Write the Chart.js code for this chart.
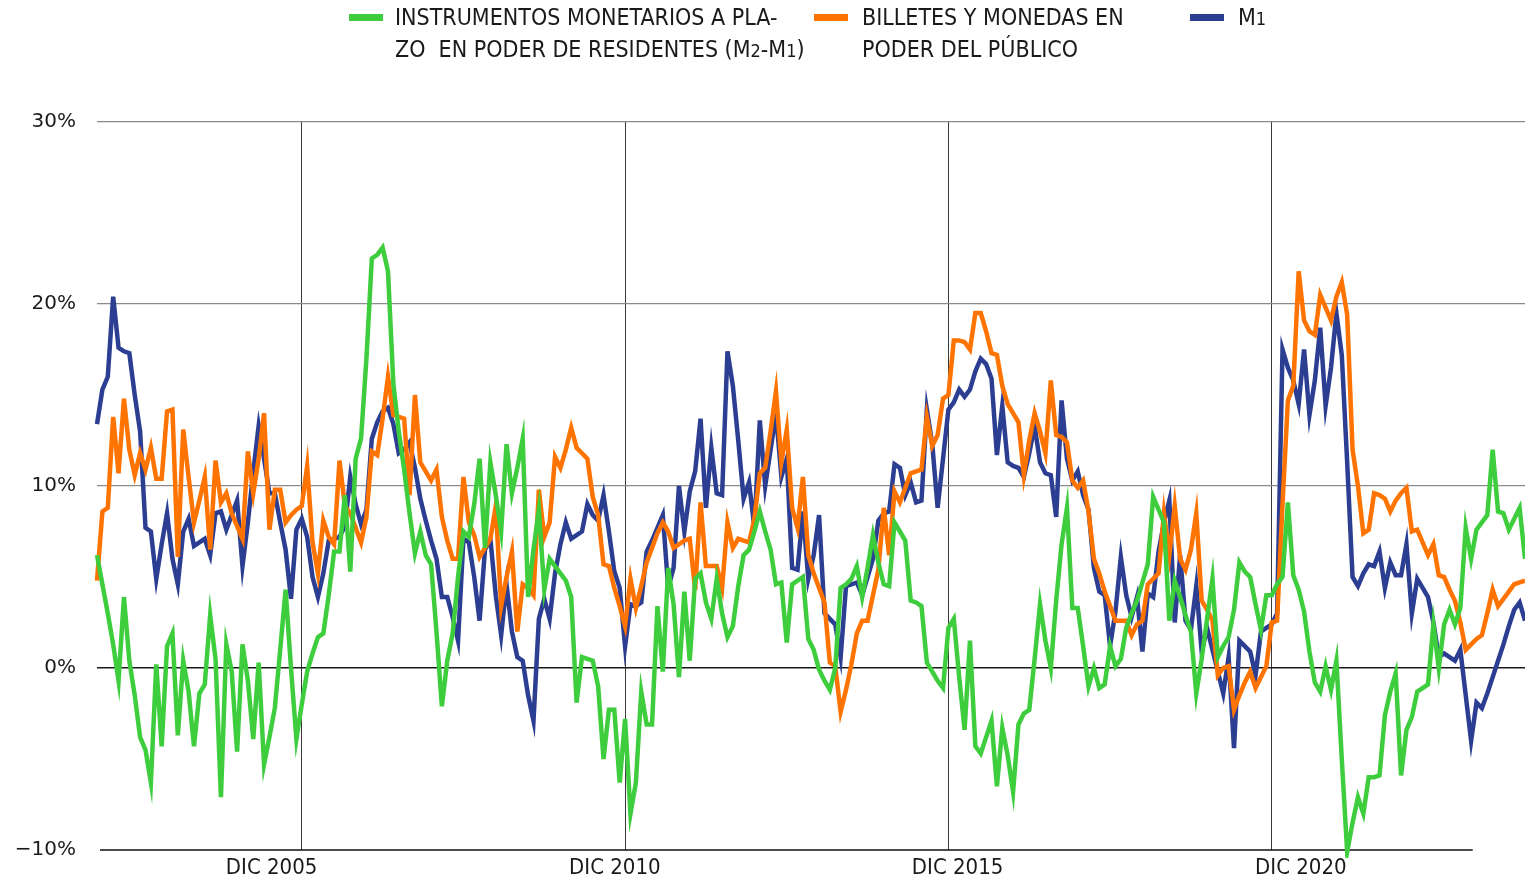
<!DOCTYPE html>
<html lang="es">
<head>
<meta charset="UTF-8">
<title>Agregados monetarios - variación anual</title>
<script src="https://cdn.jsdelivr.net/npm/chart.js"></script>
<style>
    body {
        margin: 0;
        background: #fff;
    }
    .lienzo {
        position: relative;
        width: 1525px;
        height: 883px;
    }
    .leyenda {
        position: absolute;
        top: 1px;
        font-family: "Liberation Sans Narrow", "DejaVu Sans Condensed", sans-serif;
        font-size: 23px;
        line-height: 32px;
        color: #1a1a1a;
        white-space: pre;
    }
    .marca {
        position: absolute;
        top: 14px;
        width: 34px;
        height: 7px;
    }
    .num {
        font-size: 18px;
    }
    canvas {
        position: absolute;
        left: 0;
        top: 0;
    }
</style>
</head>
<body>
<div class="lienzo">
    <canvas id="grafico" width="1525" height="883"></canvas>

    <div class="marca" style="left:349px; background:#3dcd3d"></div>
    <div class="leyenda" style="left:395px">INSTRUMENTOS MONETARIOS A PLA-
ZO  EN PODER DE RESIDENTES (M<span class="num">2</span>-M<span class="num">1</span>)</div>

    <div class="marca" style="left:814px; background:#ff7300"></div>
    <div class="leyenda" style="left:862px">BILLETES Y MONEDAS EN
PODER DEL PÚBLICO</div>

    <div class="marca" style="left:1190px; background:#2c3e92"></div>
    <div class="leyenda" style="left:1238px">M<span class="num">1</span></div>
</div>

<script>
    // meses: de octubre 2002 a noviembre 2024
    const MESES = ['ENE', 'FEB', 'MAR', 'ABR', 'MAY', 'JUN', 'JUL', 'AGO', 'SEP', 'OCT', 'NOV', 'DIC'];
    const meses = [];
    for (let a = 2002, m = 9; meses.length < 266; m++) {
        if (m === 12) { m = 0; a++; }
        meses.push(MESES[m] + ' ' + a);
    }

    const rotulosX = ['DIC 2005', 'DIC 2010', 'DIC 2015', 'DIC 2020'];

    // variación anual, %
    const plazo = [
        6.2, 4.6, 3.0, 1.3, -0.7, 3.9, 0.4, -1.5, -3.8, -4.5,
        -6.3, 0.2, -4.3, 1.2, 1.9, -3.7, 0.4, -1.3, -4.3, -1.4,
        -0.9, 2.9, 0.5, -7.1, 1.3, -0.2, -4.6, 1.3, -0.7, -3.9,
        0.3, -5.3, -3.8, -2.2, 1.0, 4.3, 0.0, -3.9, -2.0, -0.2,
        0.8, 1.7, 1.9, 4.0, 6.4, 6.4, 9.5, 5.3, 11.5, 12.6,
        17.0, 22.5, 22.7, 23.1, 21.8, 15.6, 13.0, 10.9, 8.5, 6.3,
        7.5, 6.2, 5.7, 2.0, -2.1, 0.4, 1.9, 5.0, 7.5, 7.2,
        9.0, 11.5, 6.6, 11.3, 9.5, 7.5, 12.3, 9.6, 11.0, 12.6,
        3.9, 6.5, 8.7, 4.3, 6.0, 5.6, 5.2, 4.8, 3.9, -1.9,
        0.6, 0.5, 0.4, -1.0, -5.0, -2.3, -2.3, -6.3, -2.8, -8.0,
        -6.3, -1.3, -3.1, -3.1, 3.4, -0.2, 5.5, 3.5, -0.5, 4.2,
        0.4, 4.9, 5.2, 3.6, 2.7, 4.9, 3.0, 1.7, 2.3, 4.5,
        6.2, 6.5, 7.5, 8.6, 7.5, 6.5, 4.6, 4.7, 1.4, 4.6,
        4.8, 5.0, 1.6, 1.0, -0.1, -0.7, -1.2, 0.0, 4.4, 4.6,
        4.9, 5.6, 3.9, 5.5, 7.3, 5.8, 4.6, 4.5, 8.0, 7.5,
        7.0, 3.7, 3.6, 3.4, 0.3, -0.2, -0.7, -1.1, 2.2, 2.7,
        -0.5, -3.4, 1.5, -4.3, -4.7, -3.8, -2.9, -6.5, -3.3, -4.8,
        -6.8, -3.1, -2.5, -2.3, 0.5, 3.5, 1.5, 0.0, 3.7, 6.8,
        8.8, 3.3, 3.3, 1.2, -1.0, 0.0, -1.1, -0.9, 1.2, 0.1,
        0.5, 2.2, 3.0, 3.7, 4.7, 5.7, 9.4, 8.7, 8.0, 2.6,
        4.8, 3.9, 2.9, 2.0, -1.4, 0.5, 2.7, 4.9, 0.6, 1.2,
        1.7, 3.2, 5.8, 5.3, 5.0, 3.5, 2.1, 4.0, 4.0, 4.6,
        5.0, 9.1, 5.1, 4.3, 3.1, 0.9, -0.8, -1.3, 0.1, -1.2,
        0.4, -5.0, -10.1, -8.5, -7.1, -8.0, -6.0, -6.0, -5.9, -2.6,
        -1.3, -0.3, -5.9, -3.4, -2.7, -1.3, -1.1, -0.9, 2.4, 0.0,
        2.4, 3.2, 2.4, 3.3, 7.7, 6.0, 7.6, 8.0, 8.4, 12.0,
        8.6, 8.5, 7.6, 8.2, 8.8, 6.0
    ];

    const billetes = [
        4.8, 8.6, 8.8, 13.8, 10.7, 14.8, 12.0, 10.6, 11.8, 10.9,
        12.1, 10.4, 10.4, 14.1, 14.2, 6.1, 13.1, 10.5, 8.0, 9.2,
        10.5, 6.5, 11.4, 9.1, 9.6, 8.5, 7.8, 7.1, 11.9, 9.6,
        11.5, 14.0, 7.6, 9.8, 9.8, 8.0, 8.4, 8.7, 8.9, 11.1,
        6.9, 5.2, 8.1, 7.2, 6.8, 11.4, 8.9, 8.5, 7.7, 6.9,
        8.3, 11.9, 11.7, 13.7, 16.0, 13.9, 13.8, 13.7, 9.5, 15.0,
        11.3, 10.8, 10.3, 10.9, 8.3, 7.0, 6.0, 6.0, 10.5, 8.0,
        7.3, 6.1, 6.6, 7.1, 8.9, 3.4, 5.0, 6.4, 2.0, 4.6,
        4.4, 4.0, 9.8, 7.2, 8.0, 11.6, 11.0, 12.0, 13.2, 12.1,
        11.8, 11.5, 9.4, 8.4, 5.7, 5.6, 4.4, 3.4, 2.3, 4.9,
        3.3, 4.5, 5.8, 6.6, 7.4, 8.0, 7.5, 6.6, 6.8, 7.0,
        7.1, 4.3, 9.1, 5.6, 5.6, 5.6, 4.4, 8.0, 6.6, 7.1,
        7.0, 6.9, 8.2, 10.7, 11.0, 13.0, 15.2, 11.3, 13.1, 8.8,
        7.7, 10.5, 6.2, 5.2, 4.4, 3.6, 0.3, 0.1, -2.4, -1.2,
        0.2, 1.9, 2.6, 2.6, 4.0, 5.4, 8.8, 6.2, 9.7, 9.1,
        9.9, 10.7, 10.8, 10.9, 13.8, 12.2, 12.8, 14.8, 15.0, 18.0,
        18.0, 17.9, 17.5, 19.5, 19.5, 18.5, 17.3, 17.2, 15.5, 14.5,
        14.0, 13.5, 10.6, 12.5, 14.0, 13.0, 11.8, 15.8, 12.8, 12.7,
        12.4, 10.3, 9.9, 10.3, 8.6, 6.0, 5.2, 4.2, 3.4, 2.6,
        2.6, 2.6, 1.8, 2.4, 2.6, 4.6, 4.9, 5.2, 8.5, 6.2,
        8.9, 6.0, 5.4, 6.5, 8.5, 3.7, 3.2, 2.6, -0.4, 0.0,
        0.1, -2.3, -1.5, -0.8, -0.2, -1.1, -0.5, 0.1, 2.5, 2.6,
        9.0, 14.7, 15.5, 21.8, 19.1, 18.5, 18.3, 20.5, 19.8, 19.1,
        20.4, 21.2, 19.4, 12.0, 10.0, 7.4, 7.6, 9.6, 9.5, 9.3,
        8.6, 9.2, 9.6, 9.9, 7.5, 7.6, 6.9, 6.2, 6.8, 5.1,
        5.0, 4.3, 3.7, 2.5, 1.0, 1.3, 1.6, 1.8, 3.0, 4.3,
        3.4, 3.8, 4.2, 4.6, 4.7, 4.8
    ];

    const m1 = [
        13.4, 15.3, 16.0, 20.4, 17.6, 17.4, 17.3, 15.0, 13.0, 7.7,
        7.5, 4.9, 6.8, 8.5, 6.0, 4.6, 7.5, 8.2, 6.7, 6.9,
        7.1, 6.2, 8.5, 8.6, 7.6, 8.4, 9.2, 5.6, 8.0, 10.8,
        13.3, 11.5, 9.6, 9.6, 8.0, 6.5, 3.8, 7.6, 8.2, 7.2,
        5.0, 3.9, 5.2, 7.0, 7.1, 7.2, 7.8, 10.5, 9.0, 7.9,
        8.7, 12.6, 13.5, 14.1, 14.3, 13.4, 11.8, 12.0, 12.4, 11.0,
        9.3, 8.1, 7.0, 6.0, 3.9, 3.9, 2.8, 1.5, 7.1, 6.9,
        5.0, 2.6, 6.5, 7.1, 4.0, 1.8, 4.6, 2.0, 0.6, 0.4,
        -1.5, -2.9, 2.7, 3.8, 2.7, 5.2, 6.8, 8.0, 7.1, 7.3,
        7.5, 9.0, 8.4, 8.1, 9.5, 7.5, 5.3, 4.4, 1.2, 3.5,
        3.4, 3.6, 6.4, 7.0, 7.7, 8.4, 4.4, 5.5, 10.0, 7.5,
        9.7, 10.8, 13.7, 8.8, 12.1, 9.6, 9.5, 17.4, 15.5, 12.5,
        9.3, 10.2, 7.7, 13.6, 10.0, 12.0, 14.0, 10.5, 11.5, 5.5,
        5.4, 8.6, 4.9, 6.2, 8.4, 3.0, 2.7, 2.4, 0.6, 4.5,
        4.6, 4.7, 4.0, 5.0, 6.0, 8.1, 8.5, 8.6, 11.2, 11.0,
        9.5, 10.2, 9.1, 9.2, 14.2, 12.3, 8.8, 11.5, 14.2, 14.6,
        15.3, 14.9, 15.3, 16.3, 17.0, 16.7, 15.9, 11.7, 14.4, 11.3,
        11.1, 11.0, 10.5, 11.8, 13.3, 11.3, 10.7, 10.6, 8.3, 14.7,
        11.5, 10.3, 10.8, 9.5, 8.7, 5.5, 4.2, 4.0, 1.2, 3.1,
        6.1, 4.0, 2.8, 3.9, 0.9, 4.1, 3.9, 6.4, 8.0, 9.2,
        2.5, 6.2, 2.6, 2.1, 4.5, 0.9, 2.2, 1.0, -0.2, -1.4,
        0.6, -4.4, 1.5, 1.2, 0.9, -0.4, 2.0, 2.2, 2.4, 3.0,
        17.5, 16.5, 15.8, 14.5, 17.5, 13.9, 15.8, 18.7, 14.4, 16.5,
        19.5, 17.2, 11.3, 5.0, 4.5, 5.2, 5.7, 5.6, 6.4, 4.4,
        5.8, 5.1, 5.1, 6.8, 3.0, 4.9, 4.4, 3.9, 2.5, 0.6,
        0.8, 0.6, 0.4, 1.0, -1.5, -4.0, -1.9, -2.2, -1.4, -0.5,
        0.4, 1.3, 2.3, 3.2, 3.6, 2.6
    ];

    const FUENTE_ANGOSTA = '"Liberation Sans Narrow", "DejaVu Sans Condensed", sans-serif';

    // líneas verticales en cada diciembre; los rótulos van algo desplazados (meses)
    const desplazamiento = [-5.6, -1.9, 1.7, 5.4];
    const marcasX = [];
    rotulosX.forEach((r, i) => {
        const idx = meses.indexOf(r);
        marcasX.push({ value: idx });
        marcasX.push({ value: idx + desplazamiento[i], rotulo: r });
    });
    marcasX.sort((a, b) => a.value - b.value);

    // eje inferior: en el original no llega hasta el borde derecho
    const ejeInferior = {
        id: 'ejeInferior',
        beforeDatasetsDraw(chart) {
            const { ctx, chartArea, scales } = chart;
            const fin = scales.x.getPixelForValue(255.3);
            ctx.save();
            ctx.strokeStyle = '#111';
            ctx.lineWidth = 1.6;
            ctx.beginPath();
            ctx.moveTo(chartArea.left + 3, chartArea.bottom);
            ctx.lineTo(fin, chartArea.bottom);
            ctx.stroke();
            ctx.restore();
        }
    };

    function serie(nombre, valores, color) {
        return {
            label: nombre,
            data: valores.map((v, i) => ({ x: i, y: v })),
            borderColor: color,
            backgroundColor: color,
            borderWidth: 4.5,
            pointRadius: 0,
            tension: 0,
            fill: false,
            clip: 8
        };
    }

    new Chart(document.getElementById('grafico'), {
        type: 'line',
        data: {
            datasets: [
                serie('Instrumentos monetarios a plazo en poder de residentes (M2-M1)', plazo, '#3dcd3d'),
                serie('Billetes y monedas en poder del público', billetes, '#ff7300'),
                serie('M1', m1, '#2c3e92')
            ]
        },
        plugins: [ejeInferior],
        options: {
            responsive: false,
            animation: false,
            devicePixelRatio: 1,
            layout: { padding: { top: 122, right: 0, bottom: 0, left: 0 } },
            plugins: {
                legend: { display: false },
                tooltip: { enabled: false }
            },
            scales: {
                x: {
                    type: 'linear',
                    min: 0,
                    max: meses.length - 1,
                    afterBuildTicks: ax => { ax.ticks = marcasX.map(t => Object.assign({}, t)); },
                    afterFit: ax => { ax.height = 32; },
                    grid: {
                        drawTicks: false,
                        color: c => (c.tick && c.tick.rotulo) ? 'rgba(0,0,0,0)' : '#3a3a3a',
                        lineWidth: 1
                    },
                    border: { display: false },
                    ticks: {
                        autoSkip: false,
                        maxRotation: 0,
                        padding: 5,
                        color: '#1a1a1a',
                        font: { family: FUENTE_ANGOSTA, size: 22 },
                        callback: (v, i, t) => t[i].rotulo || ''
                    }
                },
                y: {
                    min: -10,
                    max: 30,
                    afterFit: ax => { ax.width = 97; },
                    grid: {
                        drawTicks: false,
                        color: c => c.tick.value === 0 ? '#1a1a1a' : (c.tick.value === -10 ? 'rgba(0,0,0,0)' : '#8c8c8c'),
                        lineWidth: c => c.tick.value === 0 ? 1.6 : 1.3
                    },
                    border: { display: false },
                    ticks: {
                        stepSize: 10,
                        padding: 21,
                        color: '#1a1a1a',
                        font: { family: '"DejaVu Sans", sans-serif', size: 20 },
                        callback: v => (v < 0 ? '\u2212' + Math.abs(v) : v) + '%'
                    }
                }
            }
        }
    });
</script>
</body>
</html>
